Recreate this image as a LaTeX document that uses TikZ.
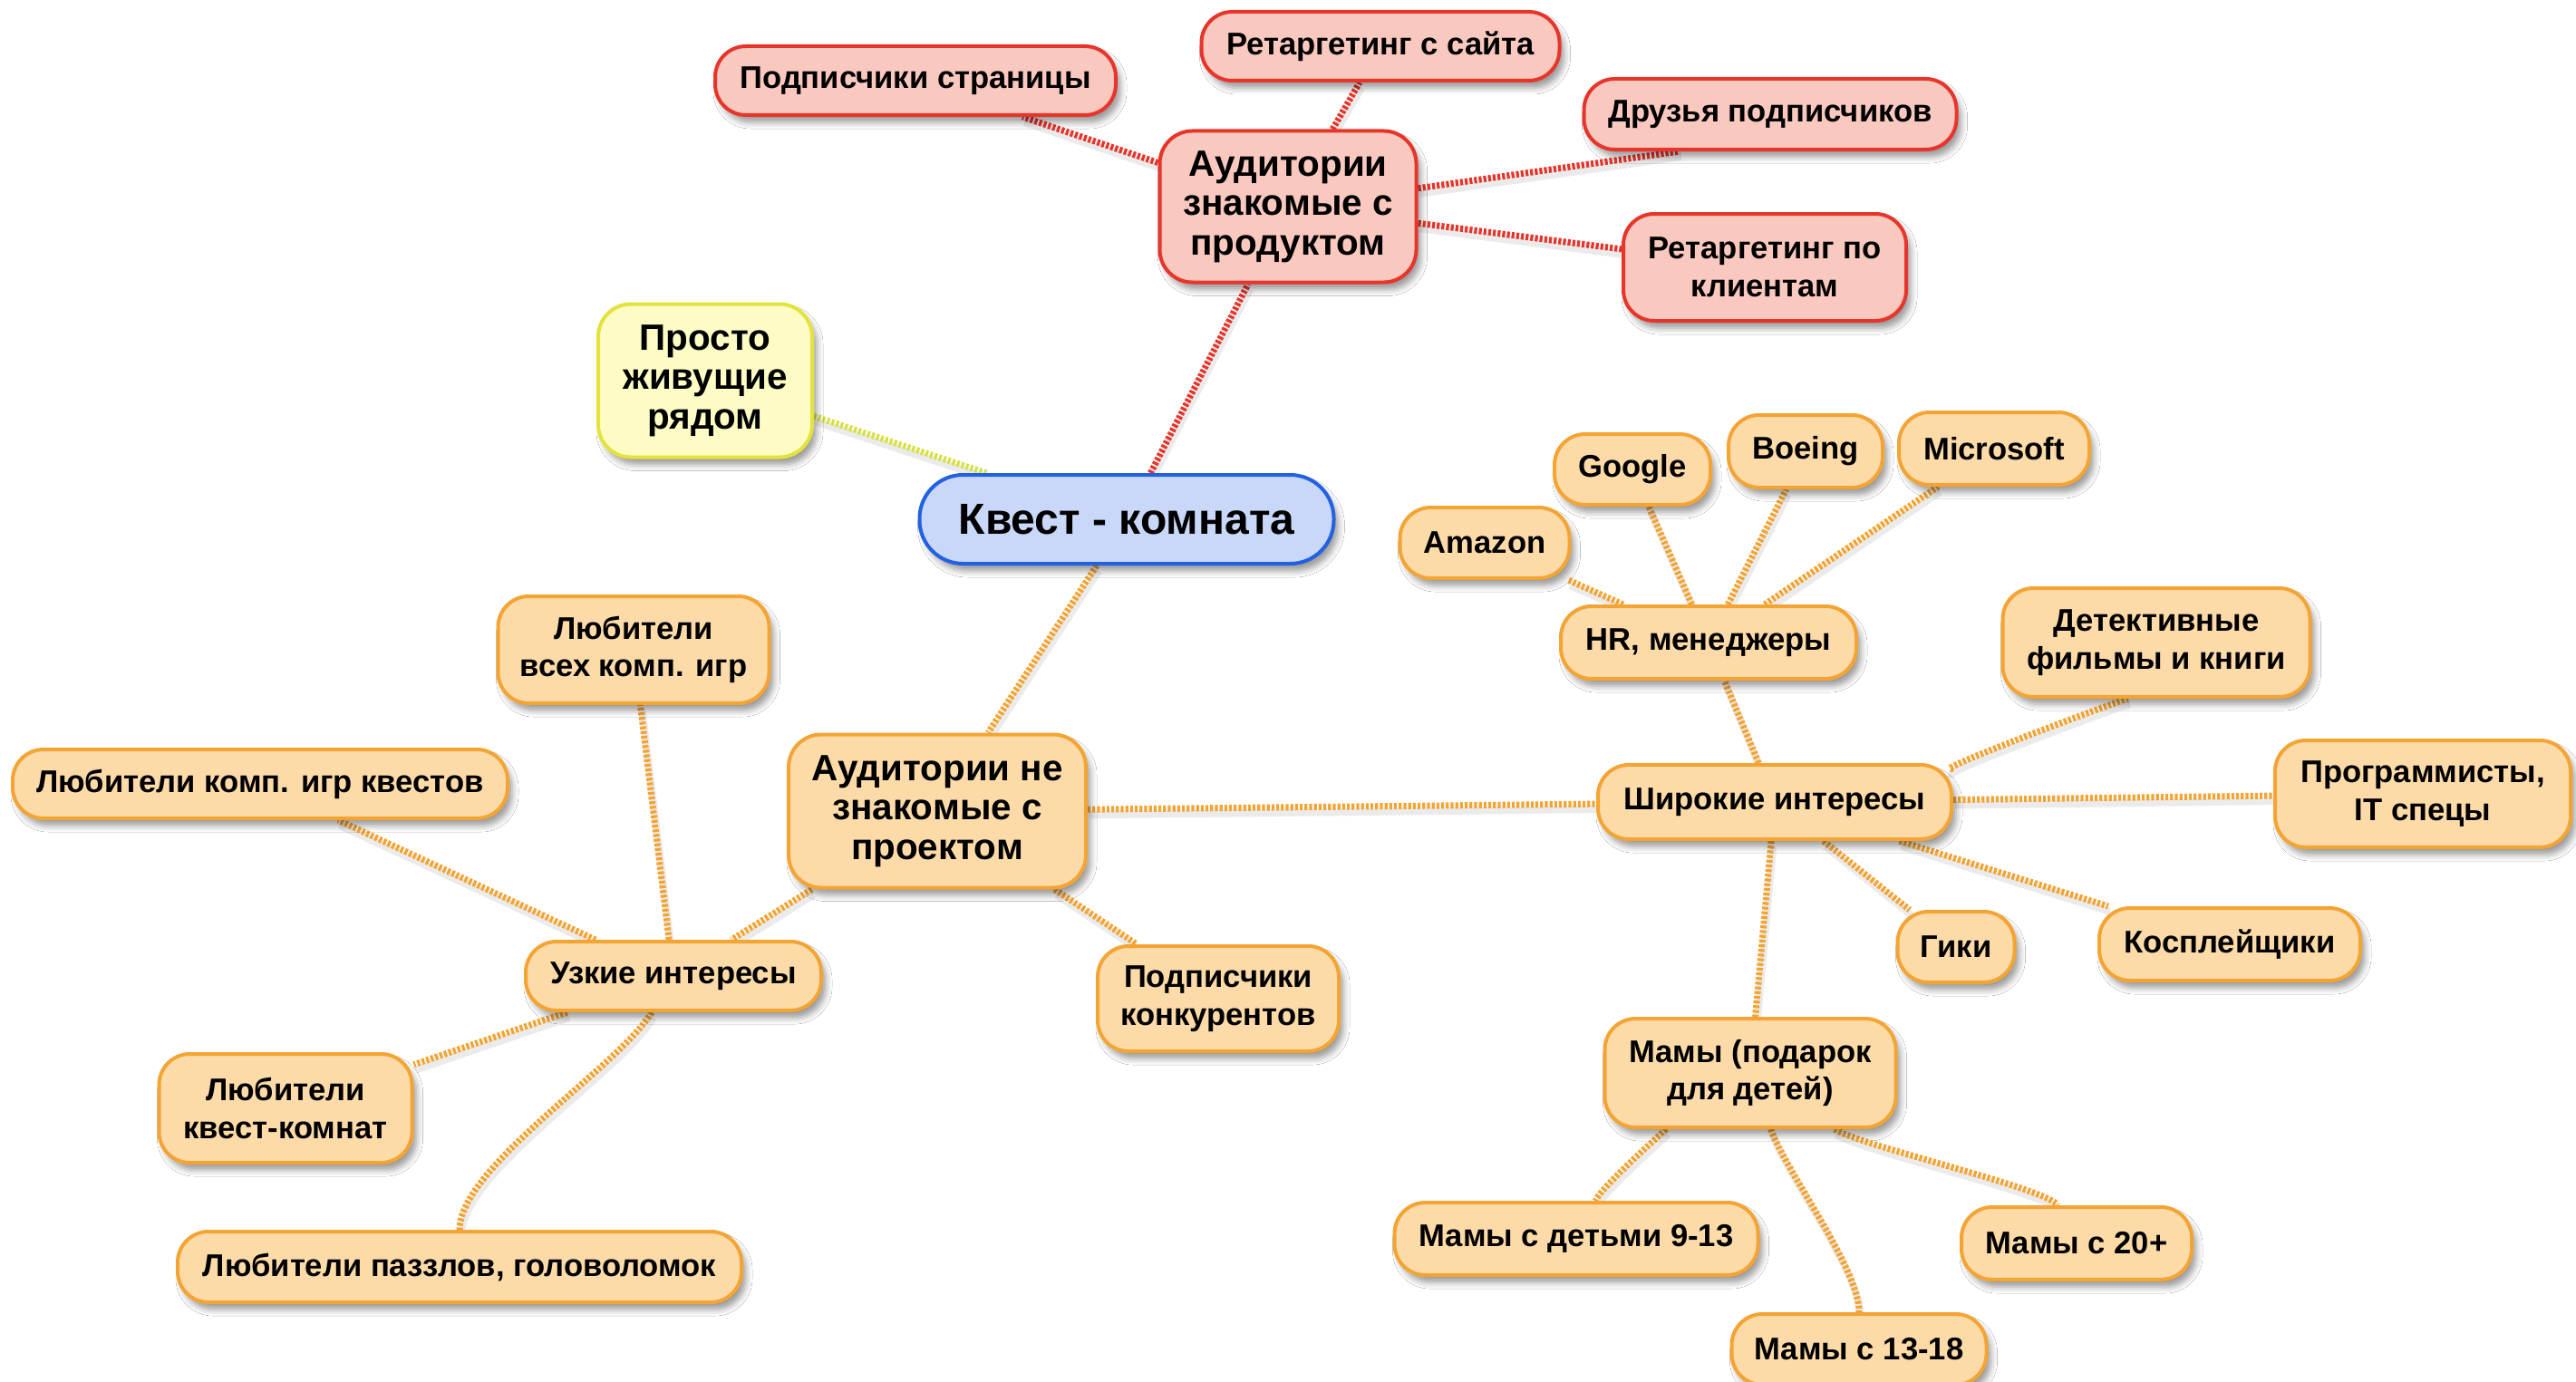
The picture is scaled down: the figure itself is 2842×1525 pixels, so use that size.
\documentclass[tikz,border=0pt]{standalone}
\usepackage{fontspec}
\setmainfont{Liberation Sans}
\usetikzlibrary{shadows.blur,backgrounds}

\definecolor{orline}{HTML}{F4A433}
\definecolor{orfill}{HTML}{FDDBA9}
\definecolor{redline}{HTML}{E8352B}
\definecolor{redfill}{HTML}{F9C8BE}
\definecolor{blueline}{HTML}{2161E2}
\definecolor{bluefill}{HTML}{C9D7F8}
\definecolor{yelline}{HTML}{E4E23C}
\definecolor{yelfill}{HTML}{FCFCC4}
\definecolor{yelconn}{HTML}{D8E04A}

\tikzset{
  x=0.5pt, y=-0.5pt,
  sz/.style 2 args={minimum width=#1*0.5pt, minimum height=#2*0.5pt},
  box/.style={draw, line width=2pt, rounded corners=17pt, align=center,
    inner sep=2pt,
    blur shadow={shadow xshift=2.5pt, shadow yshift=-4pt,
      shadow blur radius=3.5pt, shadow opacity=40},
    font=\bfseries\fontsize{17.3}{20.8}\selectfont},
  orbox/.style={box, draw=orline, fill=orfill},
  redbox/.style={box, draw=redline, fill=redfill},
  bigtext/.style={font=\bfseries\fontsize{20.2}{21.8}\selectfont, rounded corners=18pt},
  conn/.style={line width=3.5pt, dash pattern=on 1.6pt off 1pt,
    preaction={draw=black, opacity=0.08, solid, line width=4pt,
      transform canvas={xshift=1pt, yshift=-3pt}}},
  orconn/.style={conn, draw=orline},
  redconn/.style={conn, draw=redline},
  yelconnector/.style={conn, draw=yelconn},
}

\begin{document}
\begin{tikzpicture}
\useasboundingbox (0,0) rectangle (2842,1525);

% central topic
\node[box, draw=blueline, fill=bluefill, sz={457}{98}, rounded corners=24pt,
  font=\bfseries\fontsize{24}{27}\selectfont] (center) at (1243,573) {Квест - комната};

% audiences that already know the product
\node[redbox, bigtext, sz={283}{167}] (known) at (1421,228) {Аудитории\\знакомые с\\продуктом};
\node[redbox, sz={442}{76}] (podpstr) at (1010,89) {Подписчики страницы};
\node[redbox, sz={395}{76}] (rsite) at (1523,51) {Ретаргетинг с сайта};
\node[redbox, sz={411}{78}] (druz) at (1953,126) {Друзья подписчиков};
\node[redbox, sz={312}{118}] (rklient) at (1947,295) {Ретаргетинг по\\клиентам};

% people living nearby
\node[box, bigtext, draw=yelline, fill=yelfill, sz={236}{169}] (prosto) at (778,420) {Просто\\живущие\\рядом};

% audiences that do not know the project
\node[orbox, bigtext, sz={328}{169}] (unknown) at (1034,895) {Аудитории не\\знакомые с\\проектом};
\node[orbox, sz={266}{116}] (podkonk) at (1344,1102) {Подписчики\\конкурентов};

% narrow interests
\node[orbox, sz={326}{76}] (uzk) at (743,1077) {Узкие интересы};
\node[orbox, sz={299}{118}] (lvseh) at (699,717) {Любители\\всех комп. игр};
\node[orbox, sz={546}{76}] (lkvest) at (287,865) {Любители комп. игр квестов};
\node[orbox, sz={279}{120}] (lkk) at (315,1223) {Любители\\квест-комнат};
\node[orbox, sz={622}{78}] (lpuz) at (507,1398) {Любители паззлов, головоломок};

% broad interests
\node[orbox, sz={390}{82}] (shir) at (1958,885) {Широкие интересы};
\node[orbox, sz={326}{80}] (hr) at (1885,709) {HR, менеджеры};
\node[orbox, sz={187}{78}] (amazon) at (1638,599) {Amazon};
\node[orbox, sz={172}{78}] (google) at (1801,518) {Google};
\node[orbox, sz={170}{80}] (boeing) at (1992,498) {Boeing};
\node[orbox, sz={210}{80}] (microsoft) at (2200,495) {Microsoft};
\node[orbox, sz={339}{120}] (detect) at (2379,709) {Детективные\\фильмы и книги};
\node[orbox, sz={326}{118}] (prog) at (2673,876) {Программисты,\\IT спецы};
\node[orbox, sz={129}{78}] (giki) at (2158,1045) {Гики};
\node[orbox, sz={288}{80}] (kospl) at (2460,1042) {Косплейщики};
\node[orbox, sz={321}{120}] (mamy) at (1931,1184) {Мамы (подарок\\для детей)};
\node[orbox, sz={401}{80}] (m913) at (1739,1367) {Мамы с детьми 9-13};
\node[orbox, sz={254}{80}] (m20) at (2291,1372) {Мамы с 20+};
\node[orbox, sz={281}{78}] (m1318) at (2051,1489) {Мамы с 13-18};

\begin{scope}[on background layer]
  \fill[white] (0,0) rectangle (2842,1525);

  % red branch
  \draw[redconn] (center) -- (known);
  \draw[redconn] (known) -- (podpstr);
  \draw[redconn] (known) -- (rsite);
  \draw[redconn] (known) -- ([xshift=-50pt]druz.south);
  \draw[redconn] (known) -- (rklient);

  % yellow branch
  \draw[yelconnector] (center) -- (prosto);

  % orange branch
  \draw[orconn] (center) -- (unknown);
  \draw[orconn] (unknown) -- (uzk);
  \draw[orconn] (unknown) -- (podkonk);
  \draw[orconn] (unknown) -- (shir);

  \draw[orconn] (uzk) -- (lvseh);
  \draw[orconn] (uzk) -- (lkvest);
  \draw[orconn] (uzk) -- (lkk);
  \draw[orconn] (uzk) .. controls +(-60,100) and +(0,-110) .. (lpuz);

  \draw[orconn] (shir) -- (hr);
  \draw[orconn] (hr) -- (amazon);
  \draw[orconn] (hr) -- (google);
  \draw[orconn] (hr) -- (boeing);
  \draw[orconn] (hr) -- (microsoft);
  \draw[orconn] (shir) .. controls +(160,-30) and +(-30,60) .. (detect);
  \draw[orconn] (shir) -- (prog);
  \draw[orconn] (shir) -- (giki);
  \draw[orconn] (shir) -- (kospl);
  \draw[orconn] (shir) -- (mamy);

  \draw[orconn] (mamy) .. controls +(-90,60) and +(30,-60) .. (m913);
  \draw[orconn] (mamy) .. controls +(40,110) and +(0,-90) .. (m1318);
  \draw[orconn] (mamy) .. controls +(120,80) and +(-30,-60) .. (m20);
\end{scope}
\end{tikzpicture}
\end{document}
